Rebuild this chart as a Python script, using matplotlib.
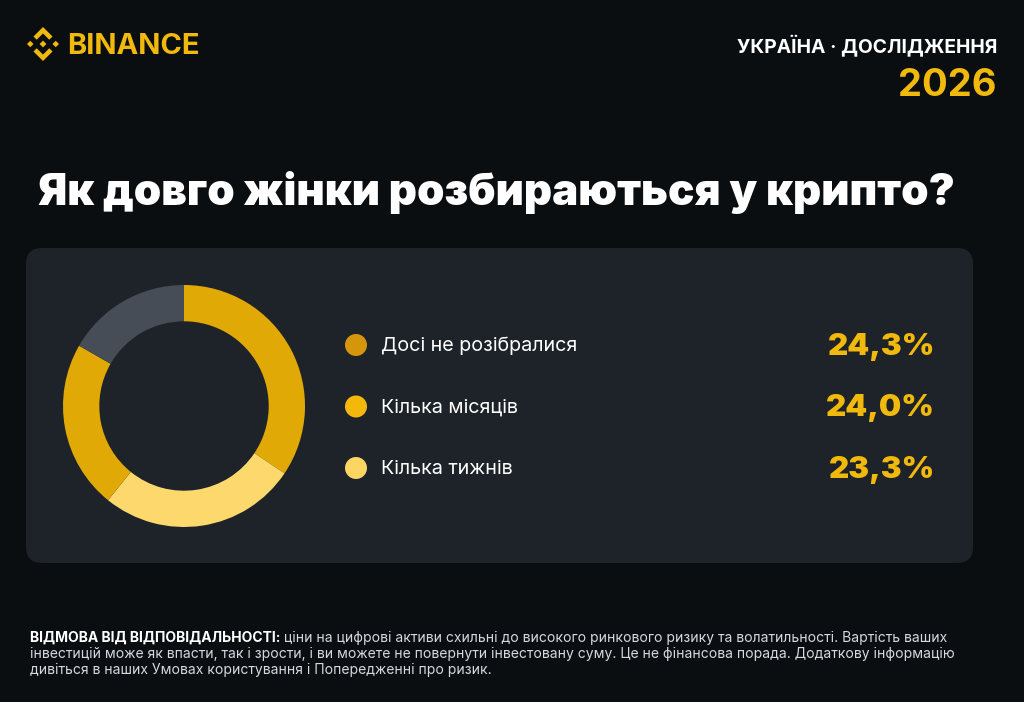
import matplotlib
matplotlib.use("Agg")
import matplotlib.pyplot as plt
from matplotlib.patches import FancyBboxPatch, Polygon, Circle

# survey answers shown in the legend
categories = ["Досі не розібралися", "Кілька місяців", "Кілька тижнів"]
shares = [24.3, 24.0, 23.3]

# arc sizes of the ring as it is drawn (three answers + the rest)
ring_values = [34.4, 26.4, 22.5, 16.7]

title = "Як довго жінки розбираються у крипто?"
header_right = "УКРАЇНА · ДОСЛІДЖЕННЯ"
year = "2026"
disclaimer_bold = "ВІДМОВА ВІД ВІДПОВІДАЛЬНОСТІ:"
disclaimer_lines = [
    " ціни на цифрові активи схильні до високого ринкового ризику та волатильності. Вартість ваших",
    "інвестицій може як впасти, так і зрости, і ви можете не повернути інвестовану суму. Це не фінансова порада. Додаткову інформацію",
    "дивіться в наших Умовах користування і Попередженні про ризик.",
]

BG = "#0B0E11"
PANEL = "#1E2329"
GOLD = "#F0B90B"
WHITE = "#FFFFFF"
dot_colors = ["#D6960B", "#F4B80A", "#FCD562"]
ring_colors = ["#E1A905", "#FDD86C", "#E1A905", "#474D57"]

plt.rcParams["font.family"] = ["Inter", "DejaVu Sans"]

W, H = 1024, 702
fig = plt.figure(figsize=(W / 100, H / 100), dpi=100, facecolor=BG)
ax = fig.add_axes([0, 0, 1, 1])
ax.set_xlim(0, W)
ax.set_ylim(H, 0)
ax.axis("off")
ax.set_facecolor(BG)

renderer = fig.canvas.get_renderer()


def fit_width(text_obj, target_px):
    """Scale a text's font size so it spans target_px pixels."""
    width = text_obj.get_window_extent(renderer).width
    text_obj.set_fontsize(text_obj.get_fontsize() * target_px / width)
    return text_obj.get_fontsize()


# --- header: logo ---
cx, cy, s = 43, 44, 17
logo_shapes = [
    [(0, 0.2), (0.2, 0), (0, -0.2), (-0.2, 0)],
    [(-0.75, 0.19), (-0.56, 0), (-0.75, -0.19), (-0.94, 0)],
    [(0.75, 0.19), (0.94, 0), (0.75, -0.19), (0.56, 0)],
    [(-0.56, 0.44), (0, 1.0), (0.56, 0.44), (0.37, 0.25), (0, 0.62), (-0.37, 0.25)],
    [(-0.56, -0.44), (0, -1.0), (0.56, -0.44), (0.37, -0.25), (0, -0.62), (-0.37, -0.25)],
]
for shape in logo_shapes:
    pts = [(cx + px * s, cy - py * s) for px, py in shape]
    ax.add_patch(Polygon(pts, closed=True, color=GOLD, lw=0))

logo_txt = ax.text(67, 54, "BINANCE", color=GOLD, fontsize=19, fontweight="bold",
                   va="baseline", ha="left")
fit_width(logo_txt, 133)

hdr = ax.text(997, 53, header_right, color=WHITE, fontsize=12.5, fontweight="bold",
              va="baseline", ha="right")
fit_width(hdr, 260)
ax.text(997, 96, year, color=GOLD, fontsize=27.5, fontweight="bold",
        va="baseline", ha="right")

# --- title ---
ttl = ax.text(38, 205, title, color=WHITE, fontsize=32, fontweight="black",
              va="baseline", ha="left")
fit_width(ttl, 919)

# --- panel ---
ax.add_patch(FancyBboxPatch((26, 248), 947, 315, boxstyle="round,pad=0,rounding_size=16",
                            facecolor=PANEL, edgecolor="none"))

# --- legend rows ---
row_y0, row_step = 345, 61.5
for i, (cat, val) in enumerate(zip(categories, shares)):
    y = row_y0 + i * row_step
    ax.add_patch(Circle((356, y), 11, color=dot_colors[i], lw=0))
    ax.text(381, y + 1, cat, color=WHITE, fontsize=14.2, va="center", ha="left")
    label = f"{val:.1f}%".replace(".", ",")
    ax.text(935, y + 2, label, color=GOLD, fontsize=22.5, fontweight="black",
            va="center", ha="right")

# --- donut ---
ring_cx, ring_cy, ring_r = 184, 406, 121
dax = fig.add_axes([(ring_cx - ring_r) / W, (H - ring_cy - ring_r) / H,
                    2 * ring_r / W, 2 * ring_r / H])
dax.pie(ring_values, colors=ring_colors, startangle=90, counterclock=False,
        radius=1, wedgeprops=dict(width=0.30, edgecolor="none", linewidth=0))
dax.set_xlim(-1, 1)
dax.set_ylim(-1, 1)
dax.set_aspect("equal")
dax.axis("off")

# --- disclaimer ---
line_y0, line_step = 642, 16
probe = ax.text(30, line_y0 + line_step, disclaimer_lines[1], color="#D5D8DC", fontsize=9,
                va="baseline", ha="left")
small = fit_width(probe, 922)
bold = ax.text(30, line_y0, disclaimer_bold, color=WHITE, fontsize=small, fontweight="bold",
               va="baseline", ha="left")
ax.annotate(disclaimer_lines[0], xy=(1, 0), xycoords=bold, va="bottom", ha="left",
            color="#D5D8DC", fontsize=small)
ax.text(30, line_y0 + 2 * line_step, disclaimer_lines[2], color="#D5D8DC", fontsize=small,
        va="baseline", ha="left")

fig.savefig("out.png", dpi=100, facecolor=BG)
